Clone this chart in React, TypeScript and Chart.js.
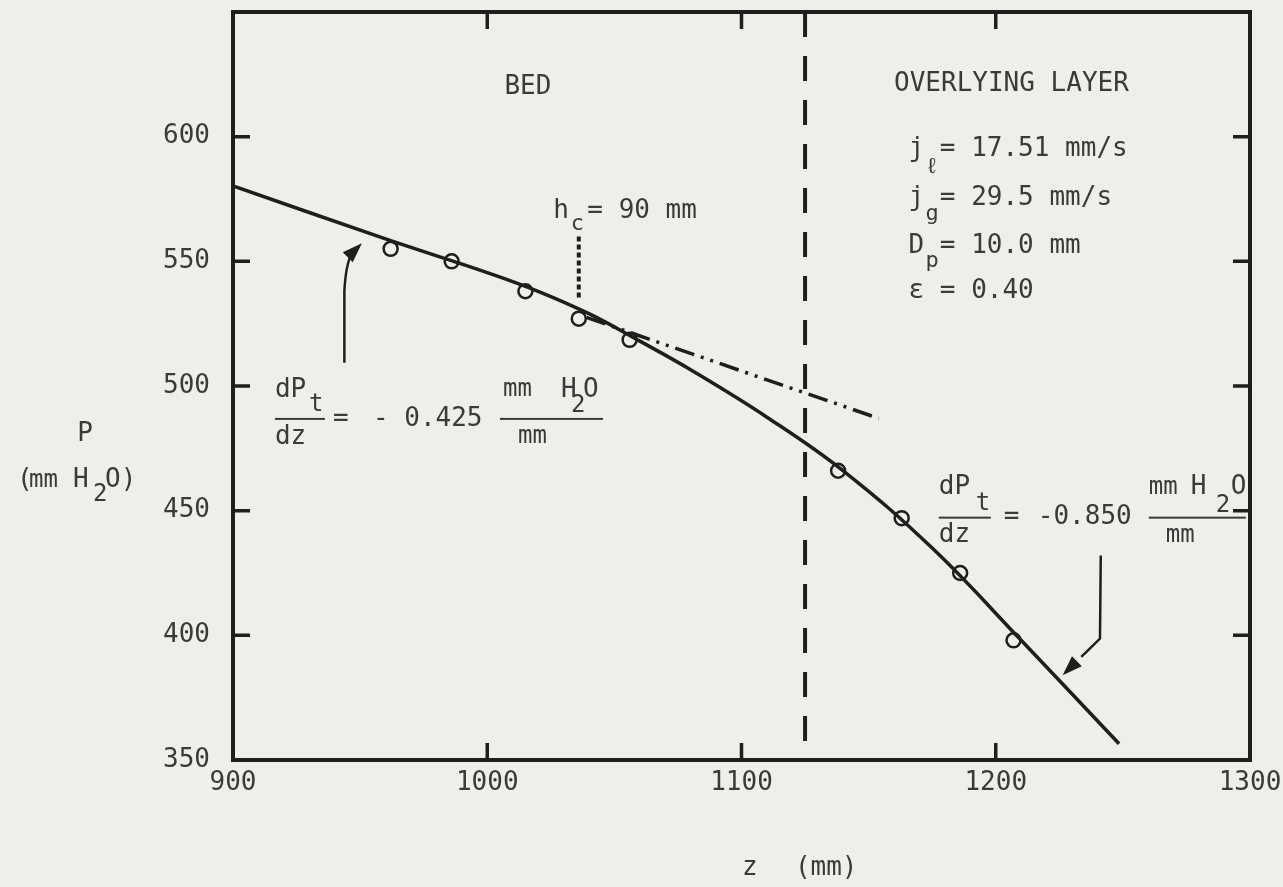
import React, { useEffect, useRef } from 'react';
import { Chart, registerables } from 'chart.js';

Chart.register(...registerables);

// ---- data ----
const X_MIN = 900;
const X_MAX = 1300;
const X_STEP = 100;
const Y_MIN = 350;
const Y_MAX = 650;
const Y_STEP = 50;
const Y_HIDDEN_LABELS = [650];

// measured points (circles)
const BED_Z = [962, 986, 1015, 1036, 1056];
const BED_P = [555, 550, 538, 527, 518.5];
const LAYER_Z = [1138, 1163, 1186, 1207];
const LAYER_P = [466, 447, 425, 398];

// fitted solid curve
const FIT_Z = [900, 960, 1000, 1020, 1040, 1060, 1080, 1110, 1140, 1175, 1210, 1248.5];
const FIT_P = [580.3, 559, 545.5, 538, 529, 518, 506.5, 487.5, 466, 435, 398, 356.5];

// tangent (dash-dot) of the bed gradient
const TANGENT_Z = [1039, 1154];
const TANGENT_P = [527.5, 487];

// bed / overlying layer boundary
const BOUNDARY_Z = 1125;

// h_c marker
const HC_Z = 1036;
const HC_P = [560, 535];

const INK = '#1e1e1e';
const TEXT = '#3a3a3a';
const BG = '#eeeeeb';
const FONT = '"DejaVu Sans Mono", "Liberation Mono", monospace';
const FS = 26;

const pts = (zs: number[], ps: number[]) => zs.map((z, i) => ({ x: z, y: ps[i] }));

function drawText(ctx: CanvasRenderingContext2D, s: string, x: number, y: number, size = FS, align: CanvasTextAlign = 'left') {
  ctx.font = `${size}px ${FONT}`;
  ctx.textAlign = align;
  ctx.textBaseline = 'middle';
  ctx.fillText(s, x, y);
}

function arrowHead(ctx: CanvasRenderingContext2D, fromX: number, fromY: number, tipX: number, tipY: number, len = 20, half = 7) {
  const dx = tipX - fromX;
  const dy = tipY - fromY;
  const d = Math.hypot(dx, dy) || 1;
  const ux = dx / d;
  const uy = dy / d;
  const bx = tipX - ux * len;
  const by = tipY - uy * len;
  ctx.beginPath();
  ctx.moveTo(tipX, tipY);
  ctx.lineTo(bx - uy * half, by + ux * half);
  ctx.lineTo(bx + uy * half, by - ux * half);
  ctx.closePath();
  ctx.fill();
}

const annotationPlugin = {
  id: 'annotations',
  beforeDraw(chart: any) {
    const { ctx, width, height } = chart;
    ctx.save();
    ctx.fillStyle = BG;
    ctx.fillRect(0, 0, width, height);
    ctx.restore();
  },
  afterDatasetsDraw(chart: any) {
    const { ctx, chartArea: a, scales } = chart;
    const xs = scales.x;
    const ys = scales.y;
    const px = (v: number) => xs.getPixelForValue(v);
    const py = (v: number) => ys.getPixelForValue(v);
    ctx.save();

    // frame
    ctx.strokeStyle = INK;
    ctx.lineWidth = 4;
    ctx.strokeRect(a.left, a.top, a.right - a.left, a.bottom - a.top);

    // inward ticks on all four sides
    ctx.lineWidth = 3.5;
    const TL = 17;
    xs.ticks.forEach((t: any) => {
      if (t.value <= X_MIN || t.value >= X_MAX) return;
      const x = px(t.value);
      ctx.beginPath();
      ctx.moveTo(x, a.bottom);
      ctx.lineTo(x, a.bottom - TL);
      ctx.moveTo(x, a.top);
      ctx.lineTo(x, a.top + TL);
      ctx.stroke();
    });
    ys.ticks.forEach((t: any) => {
      if (t.value <= Y_MIN || t.value >= Y_MAX) return;
      const y = py(t.value);
      ctx.beginPath();
      ctx.moveTo(a.left, y);
      ctx.lineTo(a.left + TL, y);
      ctx.moveTo(a.right, y);
      ctx.lineTo(a.right - TL, y);
      ctx.stroke();
    });

    ctx.fillStyle = TEXT;
    ctx.font = `${FS}px ${FONT}`;
    const cw = ctx.measureText('0').width;

    // region labels
    drawText(ctx, 'BED', px(1016), py(620), FS, 'center');
    drawText(ctx, 'OVERLYING LAYER', px(1160), py(621));

    // parameter block
    const bx = px(1165.7);
    const rows: [string, string, number, number][] = [
      ['j = 17.51 mm/s', 'ℓ', 595, 18],
      ['j = 29.5 mm/s', 'g', 575.2, 16],
      ['D = 10.0 mm', 'p', 556, 15],
      ['ε = 0.40', '', 538, 0],
    ];
    rows.forEach(([s, sub, p, off]) => {
      const y = py(p);
      drawText(ctx, s, bx, y);
      if (sub) drawText(ctx, sub, bx + cw * 1.5, y + off, 22, 'center');
    });

    // h_c label
    {
      const x0 = px(1026);
      const y0 = py(570);
      drawText(ctx, 'h', x0, y0);
      drawText(ctx, 'c', x0 + 24, y0 + 13, 22, 'center');
      drawText(ctx, '= 90 mm', x0 + 34, y0);
    }

    // gradient formulas
    const formula = (ax: number, ay: number, value: string, o: any) => {
      const x0 = px(ax);
      const y0 = py(ay);
      drawText(ctx, 'dP', x0, y0 + o.numY);
      drawText(ctx, 't', x0 + o.tX, y0 + o.tY, 24);
      ctx.fillRect(x0, y0 - 1, o.bar1, 2);
      drawText(ctx, 'dz', x0, y0 + o.denY);
      drawText(ctx, '=', x0 + o.eqX, y0);
      drawText(ctx, value, x0 + o.valX, y0);
      drawText(ctx, 'mm', x0 + o.mmX, y0 + o.numY, 24);
      drawText(ctx, 'H', x0 + o.hX, y0 + o.numY);
      drawText(ctx, '2', x0 + o.twoX, y0 + o.twoY, 24);
      drawText(ctx, 'O', x0 + o.oX, y0 + o.numY);
      ctx.fillRect(x0 + o.bar2X, y0 - 1, o.bar2, 2);
      drawText(ctx, 'mm', x0 + o.mmDX, y0 + o.denY, 24);
    };
    formula(916.5, 486.8, '- 0.425', {
      numY: -29, tX: 34, tY: -14, bar1: 50, denY: 18, eqX: 58, valX: 98,
      mmX: 228, hX: 286, twoX: 296, twoY: -13, oX: 308, bar2X: 225, bar2: 103, mmDX: 243,
    });
    formula(1177.6, 447.2, '-0.850', {
      numY: -30, tX: 37, tY: -14, bar1: 52, denY: 18, eqX: 65, valX: 99,
      mmX: 210, hX: 252, twoX: 277, twoY: -12, oX: 292, bar2X: 210, bar2: 97, mmDX: 227,
    });

    // arrows
    ctx.strokeStyle = INK;
    ctx.fillStyle = INK;
    ctx.lineWidth = 2.5;
    {
      const sx = px(943.8), sy = py(509.3);
      const bx2 = px(943.8), by2 = py(538);
      const cx = px(944.5), cy = py(551);
      const tx = px(950.7), ty = py(557.3);
      ctx.beginPath();
      ctx.moveTo(sx, sy);
      ctx.lineTo(bx2, by2);
      ctx.quadraticCurveTo(cx, cy, (cx + tx) / 2, (cy + ty) / 2);
      ctx.stroke();
      arrowHead(ctx, cx, cy, tx, ty, 20, 7);
    }
    {
      const sx = px(1241.3), sy = py(432);
      const bx2 = px(1241), by2 = py(398.7);
      const tx = px(1226.3), ty = py(384);
      ctx.beginPath();
      ctx.moveTo(sx, sy);
      ctx.lineTo(bx2, by2);
      ctx.lineTo((bx2 + tx) / 2, (by2 + ty) / 2);
      ctx.stroke();
      arrowHead(ctx, bx2, by2, tx, ty, 20, 7);
    }

    // axis titles
    ctx.fillStyle = TEXT;
    drawText(ctx, 'P', a.left - 148, py(480.5), FS, 'center');
    {
      const y = py(462);
      const x0 = a.left - 216;
      drawText(ctx, '(', x0, y);
      drawText(ctx, 'mm', x0 + 12, y, 24);
      drawText(ctx, 'H', x0 + 56, y);
      drawText(ctx, '2', x0 + 76, y + 14, 24);
      drawText(ctx, 'O)', x0 + 88, y);
    }
    drawText(ctx, 'z', px(1103.3), a.bottom + 108, FS, 'center');
    drawText(ctx, '(mm)', px(1121), a.bottom + 108);

    ctx.restore();
  },
};

export default function App() {
  const ref = useRef<HTMLCanvasElement | null>(null);
  useEffect(() => {
    if (!ref.current) return;
    const chart = new Chart(ref.current, {
      type: 'scatter',
      data: {
        datasets: [
          {
            label: 'fit',
            data: pts(FIT_Z, FIT_P),
            showLine: true,
            borderColor: INK,
            borderWidth: 3.5,
            pointRadius: 0,
            tension: 0.4,
          },
          {
            label: 'bed',
            data: pts(BED_Z, BED_P),
            showLine: false,
            pointRadius: 7,
            pointBorderWidth: 2.5,
            pointBorderColor: INK,
            pointBackgroundColor: 'rgba(0,0,0,0)',
          },
          {
            label: 'overlying layer',
            data: pts(LAYER_Z, LAYER_P),
            showLine: false,
            pointRadius: 7,
            pointBorderWidth: 2.5,
            pointBorderColor: INK,
            pointBackgroundColor: 'rgba(0,0,0,0)',
          },
          {
            label: 'tangent',
            data: pts(TANGENT_Z, TANGENT_P),
            showLine: true,
            borderColor: INK,
            borderWidth: 3.5,
            borderDash: [20, 7, 3, 7, 3, 7],
            pointRadius: 0,
          },
          {
            label: 'boundary',
            data: [
              { x: BOUNDARY_Z, y: Y_MAX },
              { x: BOUNDARY_Z, y: Y_MIN },
            ],
            showLine: true,
            borderColor: INK,
            borderWidth: 4,
            borderDash: [25, 19],
            pointRadius: 0,
          },
          {
            label: 'hc',
            data: [
              { x: HC_Z, y: HC_P[0] },
              { x: HC_Z, y: HC_P[1] },
            ],
            showLine: true,
            borderColor: INK,
            borderWidth: 4,
            borderDash: [5, 3],
            pointRadius: 0,
          },
        ],
      } as any,
      options: {
        responsive: false,
        animation: false,
        devicePixelRatio: 1,
        layout: { padding: { top: 12, right: 33, left: 0, bottom: 0 } },
        plugins: { legend: { display: false }, tooltip: { enabled: false } },
        scales: {
          x: {
            type: 'linear',
            min: X_MIN,
            max: X_MAX,
            ticks: {
              stepSize: X_STEP,
              font: { family: FONT, size: FS },
              color: TEXT,
              padding: 8,
              maxRotation: 0,
              autoSkip: false,
              callback: (v: any) => String(v),
            },
            grid: { display: false, drawTicks: false },
            border: { display: false },
            afterFit: (s: any) => {
              s.height = 127;
              s.paddingLeft = 0;
              s.paddingRight = 0;
            },
          },
          y: {
            type: 'linear',
            min: Y_MIN,
            max: Y_MAX,
            ticks: {
              stepSize: Y_STEP,
              font: { family: FONT, size: FS },
              color: TEXT,
              padding: 23,
              autoSkip: false,
              callback: (v: any) => (Y_HIDDEN_LABELS.includes(v) ? '' : String(v)),
            },
            grid: { display: false, drawTicks: false },
            border: { display: false },
            afterFit: (s: any) => {
              s.width = 233;
              s.paddingTop = 0;
              s.paddingBottom = 0;
            },
          },
        },
      } as any,
      plugins: [annotationPlugin],
    });
    return () => chart.destroy();
  }, []);

  return (
    <div style={{ position: 'fixed', left: 0, top: 0, width: 1283, height: 887, background: BG }}>
      <canvas ref={ref} width={1283} height={887} style={{ display: 'block' }} />
    </div>
  );
}
